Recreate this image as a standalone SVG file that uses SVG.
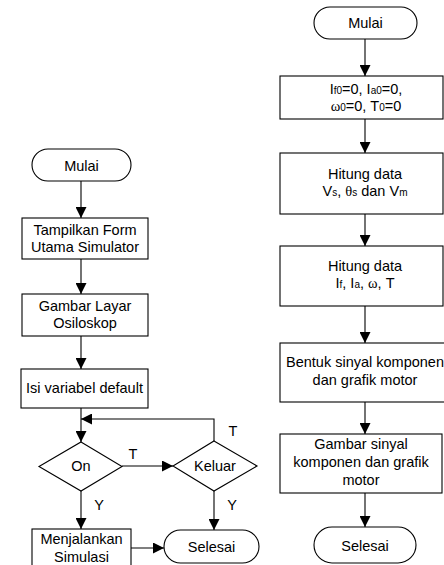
<svg xmlns="http://www.w3.org/2000/svg" width="444" height="565" viewBox="0 0 444 565">
  <style>
    .shape { fill: #ffffff; stroke: #000000; stroke-width: 1.1; }
    .edge { fill: none; stroke: #000000; stroke-width: 1.1; }
    .label { font-family: "Liberation Sans", Arial, sans-serif; font-size: 14.5px; fill: #000000; text-anchor: middle; }
    .sub { font-size: 10px; }
    .greek { font-family: "Liberation Serif", "Times New Roman", serif; }
  </style>
  <defs>
    <marker id="arrow" markerUnits="userSpaceOnUse" markerWidth="11" markerHeight="11" viewBox="0 0 11 11" refX="11" refY="5.5" orient="auto">
      <path d="M0,0 L11,5.5 L0,11 Z" fill="#000000"/>
    </marker>
  </defs>

  <rect width="444" height="565" fill="#ffffff"/>

  <!-- Connectors -->
  <g id="connectors">
    <!-- left flowchart -->
    <line class="edge" x1="81" y1="181" x2="81" y2="218" marker-end="url(#arrow)"/>
    <line class="edge" x1="81" y1="259" x2="81" y2="294" marker-end="url(#arrow)"/>
    <line class="edge" x1="81" y1="336" x2="81" y2="369" marker-end="url(#arrow)"/>
    <line class="edge" x1="81" y1="408" x2="81" y2="442" marker-end="url(#arrow)"/>
    <polyline class="edge" points="214,441 214,419 81,419" marker-end="url(#arrow)"/>
    <line class="edge" x1="122" y1="466" x2="173" y2="466" marker-end="url(#arrow)"/>
    <line class="edge" x1="81" y1="491" x2="81" y2="529" marker-end="url(#arrow)"/>
    <line class="edge" x1="214" y1="491" x2="214" y2="530" marker-end="url(#arrow)"/>
    <line class="edge" x1="131" y1="548" x2="164" y2="548" marker-end="url(#arrow)"/>
    <!-- right flowchart -->
    <line class="edge" x1="365" y1="39" x2="365" y2="76" marker-end="url(#arrow)"/>
    <line class="edge" x1="365" y1="119" x2="365" y2="153" marker-end="url(#arrow)"/>
    <line class="edge" x1="365" y1="214" x2="365" y2="246" marker-end="url(#arrow)"/>
    <line class="edge" x1="365" y1="306" x2="365" y2="343" marker-end="url(#arrow)"/>
    <line class="edge" x1="365" y1="402" x2="365" y2="434" marker-end="url(#arrow)"/>
    <line class="edge" x1="365" y1="493" x2="365" y2="527" marker-end="url(#arrow)"/>
    <!-- branch labels -->
    <text class="label" x="133" y="459">T</text>
    <text class="label" x="233" y="436">T</text>
    <text class="label" x="99" y="510">Y</text>
    <text class="label" x="232" y="510">Y</text>
  </g>

  <!-- Left flowchart nodes -->
  <g id="l-start">
    <rect class="shape" x="32" y="149" width="99" height="32" rx="16" ry="16"/>
    <text class="label" x="81.5" y="171">Mulai</text>
  </g>
  <g id="l-form">
    <rect class="shape" x="22" y="218" width="126" height="41"/>
    <text class="label" x="85" y="235">Tampilkan Form</text>
    <text class="label" x="85" y="252">Utama Simulator</text>
  </g>
  <g id="l-scope">
    <rect class="shape" x="22" y="294" width="126" height="42"/>
    <text class="label" x="85" y="311">Gambar Layar</text>
    <text class="label" x="85" y="328">Osiloskop</text>
  </g>
  <g id="l-defaults">
    <rect class="shape" x="21" y="369" width="127" height="39"/>
    <text class="label" x="84.5" y="393">Isi variabel default</text>
  </g>
  <g id="l-on">
    <polygon class="shape" points="81,442 122,466.5 81,491 39,466.5"/>
    <text class="label" x="81" y="471">On</text>
  </g>
  <g id="l-exit">
    <polygon class="shape" points="214,441 257,466 214,491 173,466"/>
    <text class="label" x="215" y="471">Keluar</text>
  </g>
  <g id="l-run">
    <rect class="shape" x="32" y="529" width="99" height="45"/>
    <text class="label" x="81.5" y="544">Menjalankan</text>
    <text class="label" x="81.5" y="562">Simulasi</text>
  </g>
  <g id="l-end">
    <rect class="shape" x="164" y="530" width="95" height="33" rx="16.5" ry="16.5"/>
    <text class="label" x="211.5" y="552">Selesai</text>
  </g>

  <!-- Right flowchart nodes -->
  <g id="r-start">
    <rect class="shape" x="314" y="7" width="103" height="32" rx="16" ry="16"/>
    <text class="label" x="365.5" y="28">Mulai</text>
  </g>
  <g id="r-init">
    <rect class="shape" x="280" y="76" width="163" height="43"/>
    <text class="label" x="366" y="94">I<tspan class="sub">f0</tspan>=0, I<tspan class="sub">a0</tspan>=0,</text>
    <text class="label" x="366" y="111"><tspan class="greek">ω</tspan><tspan class="sub">0</tspan>=0, T<tspan class="sub">0</tspan>=0</text>
  </g>
  <g id="r-calc-v">
    <rect class="shape" x="280" y="153" width="163" height="61"/>
    <text class="label" x="365" y="179">Hitung data</text>
    <text class="label" x="365" y="196">V<tspan class="sub">s</tspan>, <tspan class="greek">θ</tspan><tspan class="sub">s</tspan> dan V<tspan class="sub">m</tspan></text>
  </g>
  <g id="r-calc-i">
    <rect class="shape" x="280" y="246" width="163" height="60"/>
    <text class="label" x="365" y="271">Hitung data</text>
    <text class="label" x="365" y="288">I<tspan class="sub">f</tspan>, I<tspan class="sub">a</tspan>, <tspan class="greek">ω</tspan>, T</text>
  </g>
  <g id="r-build">
    <rect class="shape" x="280" y="343" width="170" height="59"/>
    <text class="label" x="365" y="367">Bentuk sinyal komponen</text>
    <text class="label" x="365" y="385">dan grafik motor</text>
  </g>
  <g id="r-draw">
    <rect class="shape" x="280" y="434" width="162" height="59"/>
    <text class="label" x="361" y="449">Gambar sinyal</text>
    <text class="label" x="361" y="467">komponen dan grafik</text>
    <text class="label" x="361" y="485">motor</text>
  </g>
  <g id="r-end">
    <rect class="shape" x="314" y="527" width="102" height="36" rx="18" ry="18"/>
    <text class="label" x="365" y="551">Selesai</text>
  </g>
</svg>
